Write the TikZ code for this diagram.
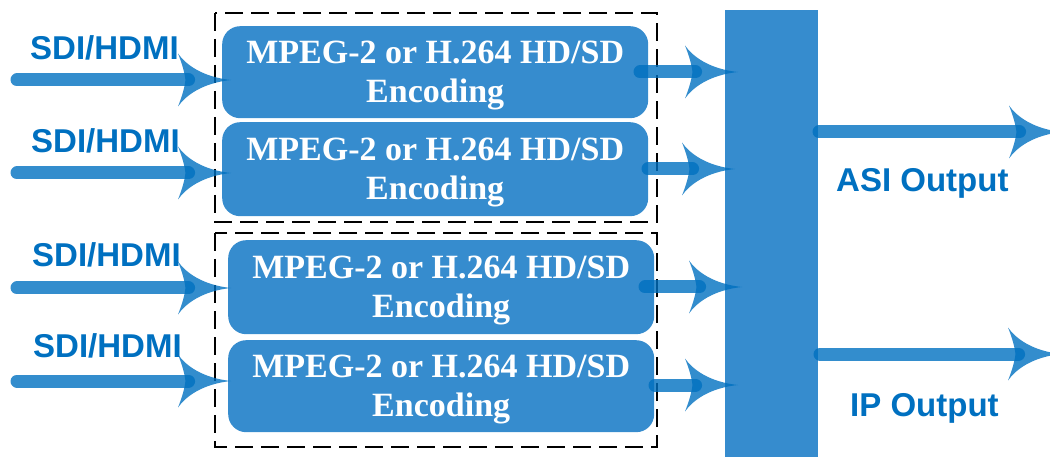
\documentclass[tikz,border=0pt]{standalone}
\usepackage{fontspec}
\setmainfont{Liberation Serif}
\newfontfamily\labelfont{Liberation Sans}
\usetikzlibrary{arrows.meta}
\definecolor{boxblue}{RGB}{54,140,206}
\definecolor{txtblue}{RGB}{0,112,192}
\definecolor{arrblue}{RGB}{0,112,192}
\pgfdeclarearrow{
  name = Dart,
  setup code = {
    \pgfarrowssettipend{0pt}
    \pgfarrowssetlineend{-0.8\pgfarrowlength}
    \pgfarrowssetbackend{-\pgfarrowlength}
    \pgfarrowshullpoint{0pt}{0pt}
    \pgfarrowsupperhullpoint{-\pgfarrowlength}{.5\pgfarrowwidth}
    \pgfarrowssavethe\pgfarrowlength
    \pgfarrowssavethe\pgfarrowwidth
  },
  drawing code = {
    \pgfpathmoveto{\pgfpointorigin}
    \pgfpathcurveto{\pgfpoint{-.3\pgfarrowlength}{.03\pgfarrowwidth}}{\pgfpoint{-.75\pgfarrowlength}{.15\pgfarrowwidth}}{\pgfpoint{-\pgfarrowlength}{.5\pgfarrowwidth}}
    \pgfpathcurveto{\pgfpoint{-.92\pgfarrowlength}{.3\pgfarrowwidth}}{\pgfpoint{-.87\pgfarrowlength}{.12\pgfarrowwidth}}{\pgfpoint{-.86\pgfarrowlength}{0pt}}
    \pgfpathcurveto{\pgfpoint{-.87\pgfarrowlength}{-.12\pgfarrowwidth}}{\pgfpoint{-.92\pgfarrowlength}{-.3\pgfarrowwidth}}{\pgfpoint{-\pgfarrowlength}{-.5\pgfarrowwidth}}
    \pgfpathcurveto{\pgfpoint{-.75\pgfarrowlength}{-.15\pgfarrowwidth}}{\pgfpoint{-.3\pgfarrowlength}{-.03\pgfarrowwidth}}{\pgfpointorigin}
    \pgfpathclose
    \pgfusepathqfill
  },
  parameters = {\the\pgfarrowlength,\the\pgfarrowwidth},
  defaults = {length = 52pt, width = 54pt}
}
\tikzset{
  arr/.style={draw=arrblue, opacity=0.8, line width=13pt, line cap=round, -{Dart[length=53pt,width=53pt]}},
  encbox/.style={fill=boxblue, rounded corners=18pt, minimum width=426pt, anchor=north west,
    inner sep=0pt, align=center, text=white, font=\bfseries\fontsize{34}{39}\selectfont},
  grp/.style={draw=black, line width=2.8pt, dash pattern=on 18pt off 8pt},
  inlabel/.style={anchor=base west, inner sep=0pt, text=txtblue, font=\labelfont\bfseries\fontsize{33}{40}\selectfont},
}
\newcommand{\enctext}{\rule{0pt}{29pt}MPEG-2 or H.264 HD/SD\\Encoding}
\begin{document}
\begin{tikzpicture}[x=1pt,y=-1pt]
\useasboundingbox (0,0) rectangle (1050,457);
\clip (0,0) rectangle (1050,457);
% group frames
\draw[grp] (215,13) rectangle (657,222);
\draw[grp] (215,233) rectangle (657,447);
% labels
\node[inlabel] (l1) at (30,60) {SDI/HDMI};
\node[inlabel] (l2) at (31,153) {SDI/HDMI};
\node[inlabel] (l3) at (32,267) {SDI/HDMI};
\node[inlabel] (l4) at (33,357) {SDI/HDMI};
% boxes
\node[encbox, minimum height=92pt] (b1) at (222,26) {\enctext};
\node[encbox, minimum height=94pt] (b2) at (222,122) {\enctext};
\node[encbox, minimum height=94pt] (b3) at (228,240) {\enctext};
\node[encbox, minimum height=92pt] (b4) at (228,340) {\enctext};
% bar
\node[fill=boxblue, anchor=north west, minimum width=93pt, minimum height=460pt, inner sep=0pt] (bar) at (725,10) {};
% input arrows
\coordinate (i1) at (17,80);
\coordinate (i2) at (17,173);
\coordinate (i3) at (17,288);
\coordinate (i4) at (17,381);
\draw[arr] (i1) -- ([xshift=9pt]i1 -| b1.west);
\draw[arr] (i2) -- ([xshift=9pt]i2 -| b2.west);
\draw[arr] (i3) -- ([xshift=3pt]i3 -| b3.west);
\draw[arr] (i4) -- ([xshift=3pt]i4 -| b4.west);
% box outputs
\coordinate (o1) at (640,72);
\coordinate (o2) at (648,169);
\coordinate (o3) at (645,287);
\coordinate (o4) at (655,385);
\draw[arr] (o1) -- ([xshift=13pt]o1 -| bar.west);
\draw[arr] (o2) -- ([xshift=10pt]o2 -| bar.west);
\draw[arr] (o3) -- ([xshift=17pt]o3 -| bar.west);
\draw[arr] (o4) -- ([xshift=13pt]o4 -| bar.west);
% outputs
\coordinate (asi) at (819,132);
\coordinate (asiend) at (1062,132);
\coordinate (ip) at (820,354);
\coordinate (ipend) at (1061,354);
\draw[arr] (asi) -- (asiend);
\draw[arr] (ip) -- (ipend);
\node[inlabel] (asil) at (836,192) {ASI Output};
\node[inlabel] (ipl) at (850,416) {IP Output};
\end{tikzpicture}
\end{document}
